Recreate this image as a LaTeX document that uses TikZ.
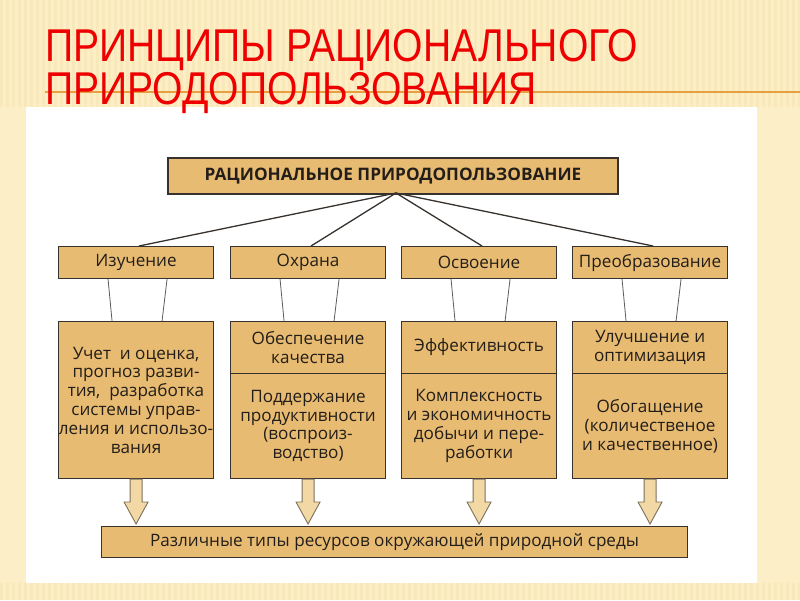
\documentclass[tikz,border=0pt]{standalone}
\usepackage{fontspec}
\setmainfont{Open Sans}
\newfontfamily\titlefont[FakeStretch=0.85]{Liberation Sans}
\usetikzlibrary{calc}
\definecolor{bgc}{RGB}{252,239,200}
\definecolor{stripe}{RGB}{246,228,178}
\definecolor{titlered}{RGB}{238,0,0}
\definecolor{rule}{RGB}{230,160,64}
\definecolor{boxfill}{RGB}{232,187,114}
\definecolor{boxdraw}{RGB}{55,50,45}
\definecolor{txt}{RGB}{35,30,25}
\definecolor{arrfill}{RGB}{241,216,164}
\definecolor{arrdraw}{RGB}{125,112,90}
\tikzset{
  box/.style={draw=boxdraw, fill=boxfill, line width=1.1pt, inner sep=0pt,
    anchor=north west, align=center, text=txt,
    font=\fontsize{17.1}{18.8}\selectfont},
  topbox/.style={box, line width=2pt, font=\bfseries\fontsize{17.2}{18}\selectfont},
  link/.style={draw=boxdraw, line width=1.3pt},
  thin/.style={draw=boxdraw!80, line width=0.8pt},
  fatarr/.style={draw=arrdraw, fill=arrfill, line width=0.9pt, line join=miter},
  titletext/.style={anchor=base west, inner sep=0pt, text=titlered,
    font=\titlefont\fontsize{46}{46}\selectfont}
}
\newcommand\fatarrow[2]{%
  \path[fatarr] let \p1=(#1.south), \p2=(#2.north) in
    (\x1-6pt,\y1) -- (\x1-6pt,\y2+24pt) -- (\x1-12pt,\y2+24pt) -- (\x1,\y2+2pt)
    -- (\x1+12pt,\y2+24pt) -- (\x1+6pt,\y2+24pt) -- (\x1+6pt,\y1) -- cycle;}
\begin{document}
\begin{tikzpicture}[x=1pt,y=-1pt]
\useasboundingbox (0,0) rectangle (800,600);
\fill[bgc] (0,0) rectangle (800,600);
\foreach \i in {0,6,...,800} {\fill[stripe,opacity=0.6] (\i,0) rectangle (\i+2.5,107);}
\foreach \i in {0,6,...,800} {\fill[stripe,opacity=0.6] (\i,583) rectangle (\i+2.5,600);}
\fill[white] (26,107) rectangle (757,583);
\draw[rule, line width=2pt] (45,92) -- (800,92);
\node[titletext] (t1) at (45,61) {ПРИНЦИПЫ РАЦИОНАЛЬНОГО};
\node[titletext] (t2) at (45,104) {ПРИРОДОПОЛЬЗОВАНИЯ};

\node[topbox, minimum width=450pt, minimum height=36pt] (top) at (167,157) {РАЦИОНАЛЬНОЕ ПРИРОДОПОЛЬЗОВАНИЕ};
\coordinate (hub) at (396,193);

\node[box, minimum width=155pt, minimum height=32pt] (a1) at (58,246) {Изучение};
\node[box, minimum width=155pt, minimum height=32pt] (a2) at (230,246) {Охрана};
\node[box, minimum width=155pt, minimum height=32pt] (a3) at (401,246) {Освоение};
\node[box, minimum width=155pt, minimum height=32pt] (a4) at (572,246) {Преобразование};

\node[box, minimum width=155pt, minimum height=157pt] (b1) at (58,321)
  {Учет\ \ и оценка,\\прогноз разви-\\тия,\ \ разработка\\системы управ-\\ления и использо-\\вания};
\node[box, minimum width=155pt, minimum height=52pt] (b2) at (230,321) {Обеспечение\\качества};
\node[box, minimum width=155pt, minimum height=105pt] (c2) at (230,373) {Поддержание\\продуктивности\\(воспроиз-\\водство)};
\node[box, minimum width=155pt, minimum height=52pt] (b3) at (401,321) {Эффективность};
\node[box, minimum width=155pt, minimum height=105pt] (c3) at (401,373) {Комплексность\\и экономичность\\добычи и пере-\\работки};
\node[box, minimum width=155pt, minimum height=52pt] (b4) at (572,321) {Улучшение и\\оптимизация};
\node[box, minimum width=155pt, minimum height=105pt] (c4) at (572,373) {Обогащение\\(количественое\\и качественное)};

\node[box, minimum width=586pt, minimum height=31pt] (base) at (101,526) {Различные типы ресурсов окружающей природной среды};

\foreach \n in {a1,a2,a3,a4} {\draw[link] (hub) -- ([xshift=3pt]\n.north);}
\foreach \a/\b in {a1/b1,a2/b2,a3/b3,a4/b4} {
  \draw[thin] ([xshift=-28pt]\a.south) -- ([xshift=-24pt]\b.north);
  \draw[thin] ([xshift=31pt]\a.south) -- ([xshift=26pt]\b.north);
}
\fatarrow{b1}{base}
\fatarrow{c2}{base}
\fatarrow{c3}{base}
\fatarrow{c4}{base}
\end{tikzpicture}
\end{document}
